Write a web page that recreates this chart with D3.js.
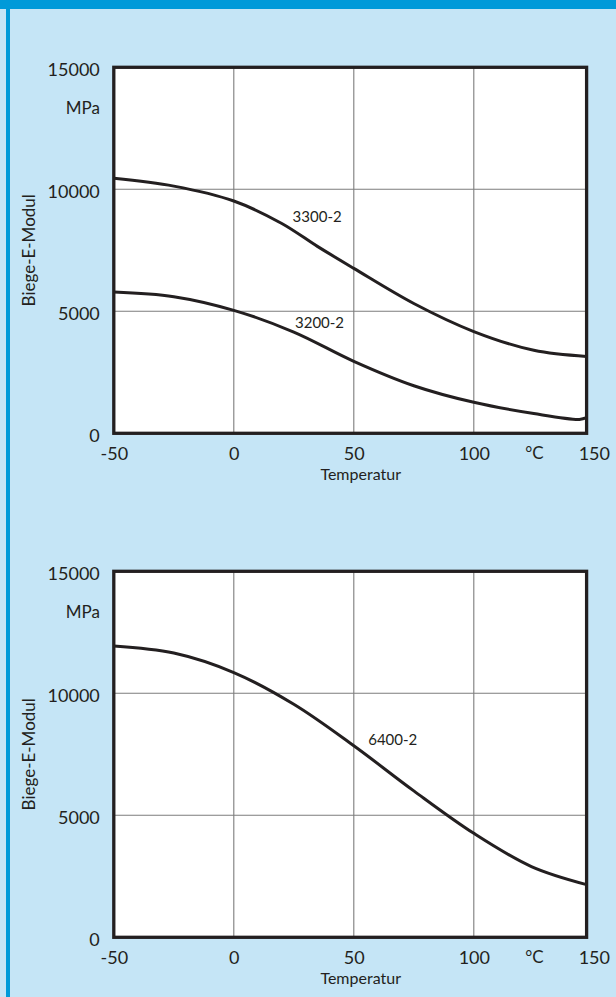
<!DOCTYPE html>
<html>
<head>
<meta charset="utf-8">
<script src="https://cdn.jsdelivr.net/npm/d3@7"></script>
<style>
  html, body { margin: 0; padding: 0; background: #c5e5f6; }
  svg { display: block; }
  text { font-family: Lato, "Noto Sans", sans-serif; fill: #231f20; }
</style>
</head>
<body>
<svg id="page" width="616" height="997"></svg>
<script>
// Axis ticks
const tempTicks = [-50, 0, 50, 100, 150];
const tempGrid = [0, 50, 100];
const modulusTicks = [0, 5000, 10000, 15000];
const modulusGrid = [5000, 10000];

// Biege-E-Modul (MPa) over temperature (°C)
const temp3300 = [-50, -25, 0, 20, 35, 50, 75, 100, 125, 147];
const mod3300  = [10450, 10130, 9520, 8600, 7650, 6760, 5320, 4170, 3400, 3150];

const temp3200 = [-50, -25, 0, 25, 50, 75, 100, 125, 144, 147];
const mod3200  = [5790, 5600, 5040, 4150, 2950, 1950, 1270, 810, 570, 640];

const temp6400 = [-50, -25, 0, 25, 50, 75, 100, 124, 147];
const mod6400  = [11940, 11650, 10850, 9550, 7850, 6000, 4260, 2900, 2160];

const tempEnd = 147; // right edge of the plot frame

const svg = d3.select("#page");
const ink = "#231f20";
const gridColor = "#7d7d7d";

// page frame: top band and left rule
svg.append("rect").attr("x", 0).attr("y", 0).attr("width", 616).attr("height", 997).attr("fill", "#c5e5f6");
svg.append("rect").attr("x", 0).attr("y", 0).attr("width", 616).attr("height", 9).attr("fill", "#009ad9");
svg.append("rect").attr("x", 6).attr("y", 0).attr("width", 4).attr("height", 997).attr("fill", "#009ad9");

const x = d3.scaleLinear().domain([-50, 150]).range([113.8, 593.8]);
const plain = d => String(d);

function drawPanel(top, series) {
  const y = d3.scaleLinear().domain([0, 15000]).range([top + 366, top]);
  const g = svg.append("g");
  const x0 = x(-50), x1 = x(tempEnd), y0 = y(0), y1 = y(15000);

  g.append("rect").attr("x", x0).attr("y", y1).attr("width", x1 - x0).attr("height", y0 - y1)
    .attr("fill", "#ffffff");

  // grid
  g.selectAll(".vgrid").data(tempGrid).join("line")
    .attr("x1", d => x(d)).attr("x2", d => x(d)).attr("y1", y1).attr("y2", y0)
    .attr("stroke", gridColor).attr("stroke-width", 1.1);
  g.selectAll(".hgrid").data(modulusGrid).join("line")
    .attr("x1", x0).attr("x2", x1).attr("y1", d => y(d)).attr("y2", d => y(d))
    .attr("stroke", gridColor).attr("stroke-width", 1.1);

  // curves
  const line = d3.line().x(d => x(d[0])).y(d => y(d[1])).curve(d3.curveCatmullRom.alpha(0.5));
  series.forEach(s => {
    const pts = s.temps.map((t, i) => [t, s.values[i]]);
    g.append("path").attr("d", line(pts)).attr("fill", "none")
      .attr("stroke", ink).attr("stroke-width", 3).attr("stroke-linejoin", "round");
    g.append("text").attr("x", x(s.labelAt[0])).attr("y", y(s.labelAt[1]))
      .attr("font-size", 15).text(s.name);
  });

  // frame
  g.append("rect").attr("x", x0).attr("y", y1).attr("width", x1 - x0).attr("height", y0 - y1)
    .attr("fill", "none").attr("stroke", ink).attr("stroke-width", 3.3);

  // axes
  const yAxis = g.append("g").attr("transform", `translate(${x0},0)`)
    .call(d3.axisLeft(y).tickValues(modulusTicks).tickFormat(plain).tickSize(0).tickPadding(14));
  yAxis.select(".domain").remove();
  yAxis.selectAll("text").attr("font-size", 18).attr("dy", "0.45em")
    .style("font-family", "Lato, 'Noto Sans', sans-serif").attr("fill", ink);

  const xAxis = g.append("g").attr("transform", `translate(0,${y0})`)
    .call(d3.axisBottom(x).tickValues(tempTicks).tickFormat(plain).tickSize(0).tickPadding(13.5));
  xAxis.select(".domain").remove();
  xAxis.selectAll("text").attr("font-size", 18)
    .style("font-family", "Lato, 'Noto Sans', sans-serif").attr("fill", ink);

  // unit labels and titles
  g.append("text").attr("x", 100).attr("y", top + 47).attr("text-anchor", "end")
    .attr("font-size", 17).text("MPa");
  g.append("text").attr("x", 534.5).attr("y", y0 + 26).attr("text-anchor", "middle")
    .attr("font-size", 17).text("°C");
  g.append("text").attr("x", 360.7).attr("y", y0 + 47).attr("text-anchor", "middle")
    .attr("font-size", 16).text("Temperatur");
  g.append("text").attr("transform", `translate(35,${top + 183}) rotate(-90)`)
    .attr("text-anchor", "middle").attr("font-size", 17).text("Biege-E-Modul");
}

drawPanel(67.3, [
  { name: "3300-2", temps: temp3300, values: mod3300, labelAt: [24.5, 8650] },
  { name: "3200-2", temps: temp3200, values: mod3200, labelAt: [25.5, 4330] }
]);

drawPanel(571.3, [
  { name: "6400-2", temps: temp6400, values: mod6400, labelAt: [56, 7890] }
]);
</script>
</body>
</html>
